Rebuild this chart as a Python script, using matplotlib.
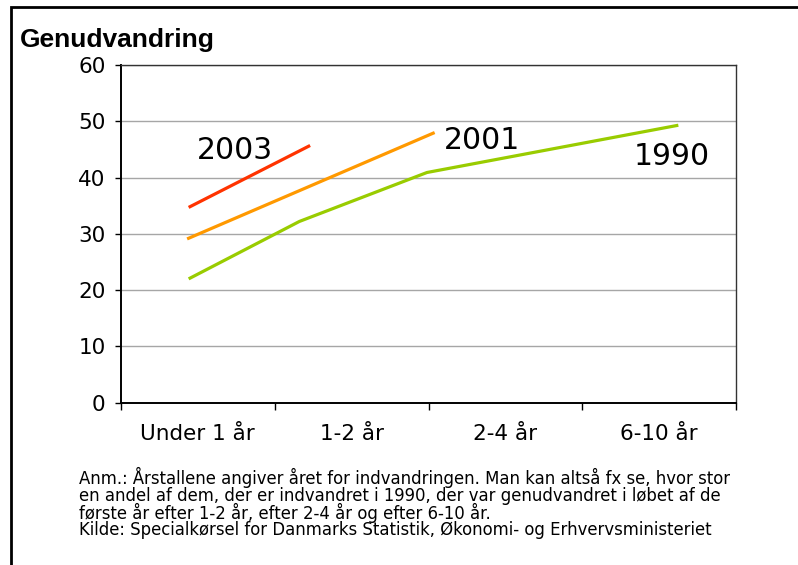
# Genudvandring efter indvandringsår
import matplotlib
matplotlib.use("Agg")
import matplotlib.pyplot as plt
from matplotlib.patches import Rectangle

# Data
kategorier = ["Under 1 år", "1-2 år", "2-4 år", "6-10 år"]
x_1990 = [0.44, 1.16, 1.99, 3.625]
y_1990 = [22.0, 32.2, 40.9, 49.3]
x_2001 = [0.43, 2.04]
y_2001 = [29.1, 48.0]
x_2003 = [0.44, 1.23]
y_2003 = [34.7, 45.7]

note = ("Anm.: Årstallene angiver året for indvandringen. Man kan altså fx se, hvor stor\n"
        "en andel af dem, der er indvandret i 1990, der var genudvandret i løbet af de\n"
        "første år efter 1-2 år, efter 2-4 år og efter 6-10 år.\n"
        "Kilde: Specialkørsel for Danmarks Statistik, Økonomi- og Erhvervsministeriet")

W, H = 798, 565
fig = plt.figure(figsize=(W / 100, H / 100), dpi=100)
ax = fig.add_axes([121 / W, 1 - 402.7 / H, (736 - 121) / W, (402.7 - 65) / H])

ax.plot(x_1990, y_1990, color="#99CC00", lw=2.3, solid_capstyle="butt")
ax.plot(x_2001, y_2001, color="#FF9900", lw=2.3, solid_capstyle="butt")
ax.plot(x_2003, y_2003, color="#FF3300", lw=2.3, solid_capstyle="butt")

ax.set_xlim(0, 4)
ax.set_ylim(0, 60)
ax.set_yticks(range(0, 61, 10))
ax.yaxis.grid(True, color="#A6A6A6", lw=1)
ax.set_axisbelow(True)

ax.set_xticks([0, 1, 2, 3, 4])
ax.set_xticklabels([])
ax.set_xticks([0.5, 1.5, 2.5, 3.5], minor=True)
ax.set_xticklabels(kategorier, minor=True)
ax.tick_params(axis="x", which="minor", length=0, pad=15, labelsize=15.5)
ax.tick_params(axis="x", which="major", length=5, width=1, direction="out")
ax.tick_params(axis="y", length=4, width=1, direction="out", pad=7, labelsize=15.5)

for s in ["left", "bottom"]:
    ax.spines[s].set_linewidth(1.4)
for s in ["top", "right"]:
    ax.spines[s].set_linewidth(1.0)
    ax.spines[s].set_color("#333333")

ax.text(0.738, 43.3, "2003", fontsize=21.5, ha="center", va="baseline")
ax.text(2.345, 45.1, "2001", fontsize=21.5, ha="center", va="baseline")
ax.text(3.58, 42.2, "1990", fontsize=21.5, ha="center", va="baseline")

fig.text(20 / W, 1 - 47 / H, "Genudvandring", fontsize=19, fontweight="bold",
         family="Liberation Sans", ha="left", va="baseline")
fig.text(79 / W, 1 - 535 / H, note, fontsize=11.9, family="DejaVu Sans",
         ha="left", va="baseline", linespacing=0.88)

# ramme om figuren
fig.patches.append(Rectangle((11 / W, -0.1), 1.2, 1 - 7 / H + 0.1, transform=fig.transFigure,
                             fill=False, edgecolor="black", lw=2))

fig.savefig("out.png", dpi=100)
